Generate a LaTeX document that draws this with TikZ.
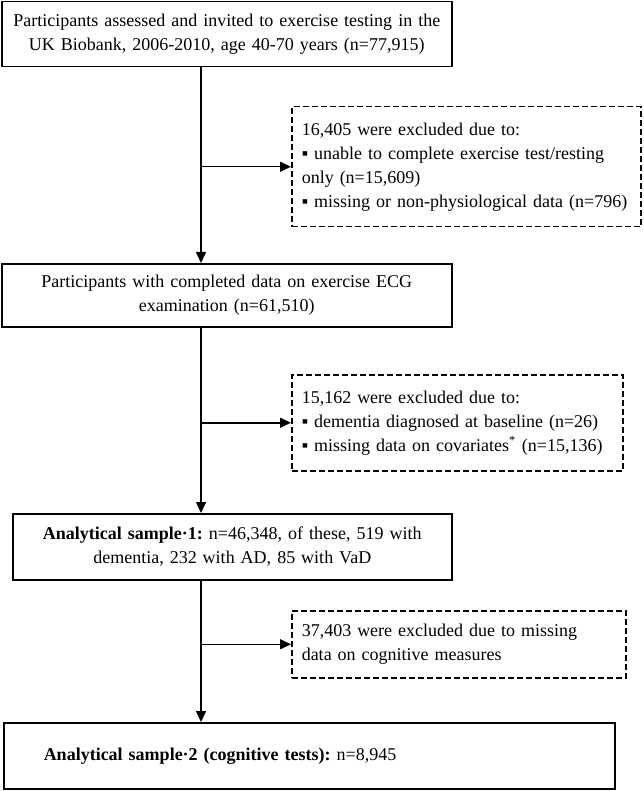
\documentclass[tikz,border=0pt]{standalone}
\usepackage{fontspec}
\setmainfont{Liberation Serif}
\usetikzlibrary{arrows.meta,positioning,calc}
\frenchspacing
\newcommand{\flowsize}{\fontsize{18}{24}\selectfont}
\tikzset{
  stage/.style={draw, line width=1.5pt, align=center, font=\flowsize, inner sep=0pt, text width=#1, anchor=north west},
  excl/.style={draw, dash pattern=on 6pt off 3pt, line width=1.5pt, align=left, font=\flowsize, inner xsep=10pt, inner ysep=0pt, text width=#1, anchor=north west},
  flow/.style={-{Triangle[length=11pt,width=10pt]}, line width=1.5pt},
}

\begin{document}
\begin{tikzpicture}[x=1pt,y=1pt]
  \useasboundingbox (0,0) rectangle (644,-791);
  % main stages
  \node[stage=450pt, minimum height=65pt] (invited) at (1,-1) {Participants assessed and invited to exercise testing in the\\ UK Biobank, 2006-2010, age 40-70 years (n=77,915)};
  \node[stage=450pt, minimum height=63pt] (ecg) at (1,-263) {Participants with completed data on exercise ECG\\ examination (n=61,510)};
  \node[stage=439pt, minimum height=66pt] (sample1) at (12,-513) {\textbf{Analytical sample·1:} n=46,348, of these, 519 with\\ dementia, 232 with AD, 85 with VaD};
  \node[stage=531pt, align=left, inner xsep=40pt, minimum height=66pt] (sample2) at (3,-722) {\textbf{Analytical sample·2 (cognitive tests):} n=8,945};
  % exclusions
  \node[excl=329pt, minimum height=120pt] (excl1) at (291,-106) {16,405 were excluded due to:\\ ▪ unable to complete exercise test/resting\\ only (n=15,609)\\ ▪ missing or non-physiological data (n=796)};
  \node[excl=311pt, minimum height=96pt] (excl2) at (291,-374) {15,162 were excluded due to:\\ ▪ dementia diagnosed at baseline (n=26)\\ ▪ missing data on covariates\textsuperscript{*} (n=15,136)};
  \node[excl=314pt, minimum height=67pt] (excl3) at (291,-610) {37,403 were excluded due to missing\\ data on cognitive measures};
  % trunk of the flow
  \coordinate (trunk) at (201,0);
  \draw[flow] (trunk |- invited.south) -- (trunk |- ecg.north);
  \draw[flow] (trunk |- ecg.south) -- (trunk |- sample1.north);
  \draw[flow] (trunk |- sample1.south) -- (trunk |- sample2.north);
  % side branches
  \draw[flow] (trunk |- excl1.west) -- (excl1.west);
  \draw[flow] (trunk |- excl2.west) -- (excl2.west);
  \draw[flow] (trunk |- excl3.west) -- (excl3.west);
\end{tikzpicture}
\end{document}
